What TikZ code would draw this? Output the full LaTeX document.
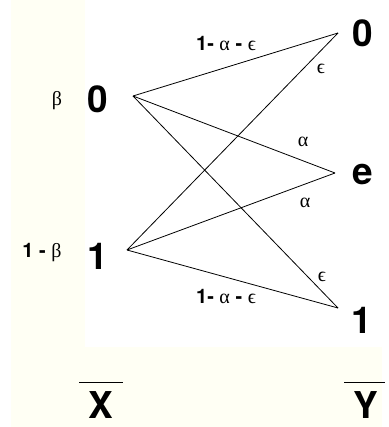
\documentclass[tikz,border=0pt]{standalone}
\usepackage{fontspec}
\setmainfont{TeX Gyre Heros}
\newfontfamily\grk{Liberation Serif}
\definecolor{cream}{RGB}{255,255,244}
\begin{document}
\begin{tikzpicture}[x=1pt,y=-1pt,
  big/.style={font=\fontsize{37}{37}\selectfont\bfseries, inner sep=0pt},
  lbl/.style={font=\fontsize{20}{20}\selectfont, inner sep=0pt},
  chan/.style={line width=0.8pt, black}]
\useasboundingbox (0,0) rectangle (388,427);
\fill[white] (0,0) rectangle (388,427);
\fill[cream] (11,0) rectangle (382,427);
\fill[white] (85,0) rectangle (388,347);
% input and output symbols
\node[big] (L0) at (98,99) {0};
\node[big] (L1) at (98,256) {1};
\node[big] (R0) at (363,33) {0};
\node[big] (Re) at (363,175) {e};
\node[big] (R1) at (362,320) {1};
% apex points
\coordinate (x0) at (133,96);
\coordinate (x1) at (127,250);
\coordinate (y0) at (338,33);
\coordinate (ye) at (335,173);
\coordinate (y1) at (338,308);
% transitions
\draw[chan] (x0) -- (y0);
\draw[chan] (x0) -- (ye);
\draw[chan] (x0) -- (y1);
\draw[chan] (x1) -- (y0);
\draw[chan] (x1) -- (ye);
\draw[chan] (x1) -- (y1);
% probabilities
\node[lbl] (pb) at (57,101) {{\grk β}};
\node[lbl] (pnb) at (42,253) {\textbf{1 -} {\grk β}};
\node[lbl] (t00) at (226,44) {\textbf{1-} {\grk α} \textbf{-} {\grk ϵ}};
\node[lbl] (t10) at (321,69) {{\grk ϵ}};
\node[lbl] (t0e) at (303,142) {{\grk α}};
\node[lbl] (t1e) at (305,203) {{\grk α}};
\node[lbl] (t01) at (322,277) {{\grk ϵ}};
\node[lbl] (t11) at (226,297) {\textbf{1-} {\grk α} \textbf{-} {\grk ϵ}};
% variables
\node[big] (X) at (101,405) {X};
\node[big] (Y) at (366,405) {Y};
\draw[line width=1.4pt] ([xshift=-9pt,yshift=9pt]X.north west) -- ([xshift=9pt,yshift=9pt]X.north east);
\draw[line width=1.4pt] ([xshift=-9pt,yshift=9pt]Y.north west) -- ([xshift=6pt,yshift=9pt]Y.north east);
\end{tikzpicture}
\end{document}
